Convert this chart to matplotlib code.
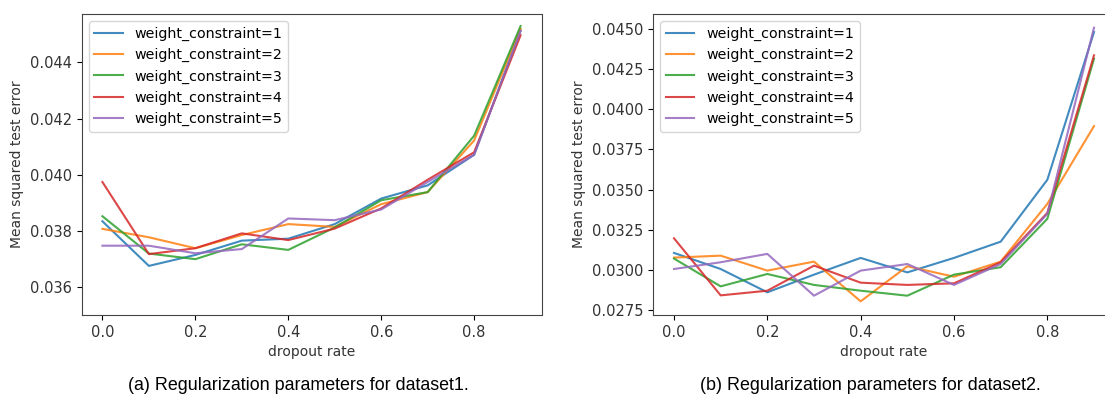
import numpy as np
import matplotlib
matplotlib.use("Agg")
import matplotlib.pyplot as plt

# dropout rates on the x axis (shared by both panels)
dropout = [0.0, 0.1, 0.2, 0.3, 0.4, 0.5, 0.6, 0.7, 0.8, 0.9]
labels = ["weight_constraint=1", "weight_constraint=2", "weight_constraint=3",
          "weight_constraint=4", "weight_constraint=5"]

# dataset1: mean squared test error per weight constraint
d1_wc1 = [0.03834, 0.03675, 0.03714, 0.03765, 0.03772, 0.03824, 0.03915, 0.03962, 0.04071, 0.04514]
d1_wc2 = [0.03807, 0.03777, 0.03738, 0.03785, 0.03824, 0.03814, 0.03895, 0.03938, 0.04122, 0.04520]
d1_wc3 = [0.03852, 0.03719, 0.03699, 0.03752, 0.03732, 0.03812, 0.03909, 0.03938, 0.04139, 0.04530]
d1_wc4 = [0.03974, 0.03717, 0.03738, 0.03791, 0.03767, 0.03808, 0.03880, 0.03982, 0.04080, 0.04497]
d1_wc5 = [0.03747, 0.03747, 0.03720, 0.03735, 0.03844, 0.03838, 0.03876, 0.03974, 0.04071, 0.04512]

# dataset2
d2_wc1 = [0.03106, 0.03006, 0.02861, 0.02971, 0.03075, 0.02985, 0.03075, 0.03176, 0.03561, 0.04480]
d2_wc2 = [0.03077, 0.03089, 0.02996, 0.03052, 0.02805, 0.03023, 0.02958, 0.03052, 0.03411, 0.03895]
d2_wc3 = [0.03071, 0.02898, 0.02975, 0.02907, 0.02871, 0.02840, 0.02971, 0.03017, 0.03318, 0.04314]
d2_wc4 = [0.03197, 0.02842, 0.02871, 0.03027, 0.02921, 0.02907, 0.02917, 0.03048, 0.03355, 0.04335]
d2_wc5 = [0.03006, 0.03048, 0.03100, 0.02840, 0.02996, 0.03037, 0.02907, 0.03037, 0.03349, 0.04507]

W, H = 1105, 395


def draw_panel(axes, series):
    for (values, label) in zip(series, labels):
        axes.plot(dropout, values, label=label, linewidth=1.5, alpha=0.85)
    axes.set_xlabel("dropout rate", fontsize=10, color="#333333")
    axes.set_ylabel("Mean squared test error", fontsize=10, color="#333333")
    axes.tick_params(labelsize=10.5, labelcolor="#333333")
    for spine in axes.spines.values():
        spine.set_color("#444444")
    axes.legend(loc="upper left", fontsize=10.3)


fig = plt.figure(figsize=(W / 100, H / 100), dpi=100)

ax1 = fig.add_axes([81.5 / W, 80 / H, 460 / W, 301 / H])
draw_panel(ax1, [d1_wc1, d1_wc2, d1_wc3, d1_wc4, d1_wc5])
ax1.set_ylim(bottom=0.035)
ax1.set_yticks([0.036, 0.038, 0.040, 0.042, 0.044])

# the right panel runs off the edge of the picture, as in the reference
ax2 = fig.add_axes([653 / W, 80 / H, 462 / W, 301 / H])
draw_panel(ax2, [d2_wc1, d2_wc2, d2_wc3, d2_wc4, d2_wc5])
ax2.set_yticks([0.0275, 0.0300, 0.0325, 0.0350, 0.0375, 0.0400, 0.0425, 0.0450])

for ax in (ax1, ax2):
    ax.set_xticks([0.0, 0.2, 0.4, 0.6, 0.8])

cap = dict(family=["Liberation Sans", "DejaVu Sans"], fontsize=12.9,
           ha="center", va="center")
fig.text(298 / W, 1 - 385 / H, "(a) Regularization parameters for dataset1.", **cap)
fig.text(870 / W, 1 - 385 / H, "(b) Regularization parameters for dataset2.", **cap)

fig.savefig("out.png", dpi=100, facecolor="white")
